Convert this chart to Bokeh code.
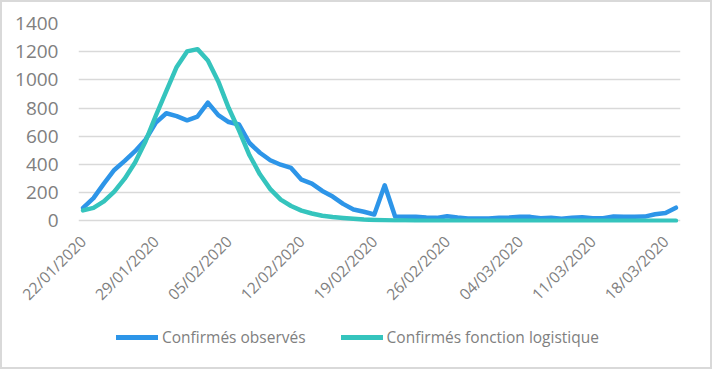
from bokeh.plotting import figure
from bokeh.layouts import column
from bokeh.models import FixedTicker, Legend, LegendItem, Range1d, ColumnDataSource
from bokeh.embed import file_html
from bokeh.resources import INLINE
from math import pi

# ---- data ----
start_labels = ["22/01/2020", "29/01/2020", "05/02/2020", "12/02/2020", "19/02/2020",
                "26/02/2020", "04/03/2020", "11/03/2020", "18/03/2020"]
tick_days = [0, 7, 14, 21, 28, 35, 42, 49, 56]

observed = [92, 161, 264, 361, 425, 494, 575, 697, 763, 743,
            713, 740, 839, 750, 701, 683, 552, 483, 430, 398,
            375, 292, 264, 212, 172, 120, 80, 64, 45, 252,
            30, 28, 28, 23, 21, 33, 23, 16, 16, 16,
            21, 23, 28, 28, 19, 21, 14, 21, 26, 19,
            19, 30, 28, 28, 30, 47, 56, 93]

logistic = [74, 92, 138, 207, 299, 414, 563, 747, 920, 1092,
            1202, 1218, 1138, 989, 800, 640, 465, 330, 225, 150,
            105, 72, 52, 36, 27, 20, 14, 9, 6, 4,
            3, 2, 1, 1, 1, 1, 0, 0, 0, 0,
            0, 0, 0, 0, 0, 0, 0, 0, 0, 0,
            0, 0, 0, 0, 0, 0, 0, 0]

series_names = ["Confirmés observés", "Confirmés fonction logistique"]
y_ticks = [0, 200, 400, 600, 800, 1000, 1200, 1400]

days = list(range(len(observed)))
src = ColumnDataSource(dict(day=days, obs=observed, log=logistic))

BLUE = "#2d95e8"
TEAL = "#35c4bd"
GRAY = "#808080"
FONT = "Open Sans"

# ---- main chart ----
p = figure(width=712, height=315, output_backend="svg", toolbar_location=None,
           x_range=Range1d(-0.44, len(days) - 1 + 0.44), y_range=Range1d(-12, 1400),
           min_border_left=78, min_border_right=32, min_border_top=23, min_border_bottom=87)
p.outline_line_color = None
p.background_fill_color = None
p.border_fill_color = None

p.line("day", "obs", source=src, line_color=BLUE, line_width=4.5,
       line_join="round", line_cap="round")
p.line("day", "log", source=src, line_color=TEAL, line_width=4.5,
       line_join="round", line_cap="round")

p.xgrid.grid_line_color = None
p.ygrid.ticker = FixedTicker(ticks=y_ticks)
p.ygrid.grid_line_color = "#d9d9d9"
p.ygrid.grid_line_width = 1.5

p.yaxis.ticker = FixedTicker(ticks=y_ticks)
p.yaxis.axis_line_color = None
p.yaxis.major_tick_line_color = None
p.yaxis.minor_tick_line_color = None
p.yaxis.major_tick_out = 0
p.yaxis.major_label_standoff = 20
p.yaxis.major_label_text_font = FONT
p.yaxis.major_label_text_font_size = "19px"
p.yaxis.major_label_text_color = GRAY

p.xaxis.ticker = FixedTicker(ticks=tick_days)
p.xaxis.major_label_overrides = {d: s for d, s in zip(tick_days, start_labels)}
p.xaxis.major_label_orientation = pi / 4
p.xaxis.axis_line_color = None
p.xaxis.major_tick_line_color = None
p.xaxis.minor_tick_line_color = None
p.xaxis.major_tick_out = 0
p.xaxis.major_label_standoff = 16
p.xaxis.major_label_text_font = FONT
p.xaxis.major_label_text_font_size = "15.5px"
p.xaxis.major_label_text_color = GRAY

# ---- legend strip ----
lg = figure(width=712, height=54, output_backend="svg", toolbar_location=None,
            x_range=Range1d(0, 1), y_range=Range1d(0, 1), min_border=0)
lg.axis.visible = False
lg.grid.grid_line_color = None
lg.outline_line_color = None
lg.background_fill_color = None
lg.border_fill_color = None
e = ColumnDataSource(dict(x=[5], y=[5]))
g1 = lg.line("x", "y", source=e, line_color=BLUE, line_width=5, line_cap="round")
g2 = lg.line("x", "y", source=e, line_color=TEAL, line_width=5, line_cap="round")

legend = Legend(items=[LegendItem(label=series_names[0], renderers=[g1]),
                       LegendItem(label=series_names[1], renderers=[g2])],
                orientation="horizontal", location=(38, 21))
legend.border_line_color = None
legend.background_fill_alpha = 0
legend.padding = 0
legend.margin = 0
legend.spacing = 35
legend.glyph_width = 42
legend.glyph_height = 20
legend.label_standoff = 4
legend.label_text_font = FONT
legend.label_text_font_size = "15.5px"
legend.label_text_color = GRAY
lg.add_layout(legend, "center")

layout = column(p, lg, spacing=0)
layout.styles = {"background-color": "white", "box-shadow": "inset 0 0 0 2px #d9d9d9"}

open("out.html", "w").write(file_html(layout, INLINE))
